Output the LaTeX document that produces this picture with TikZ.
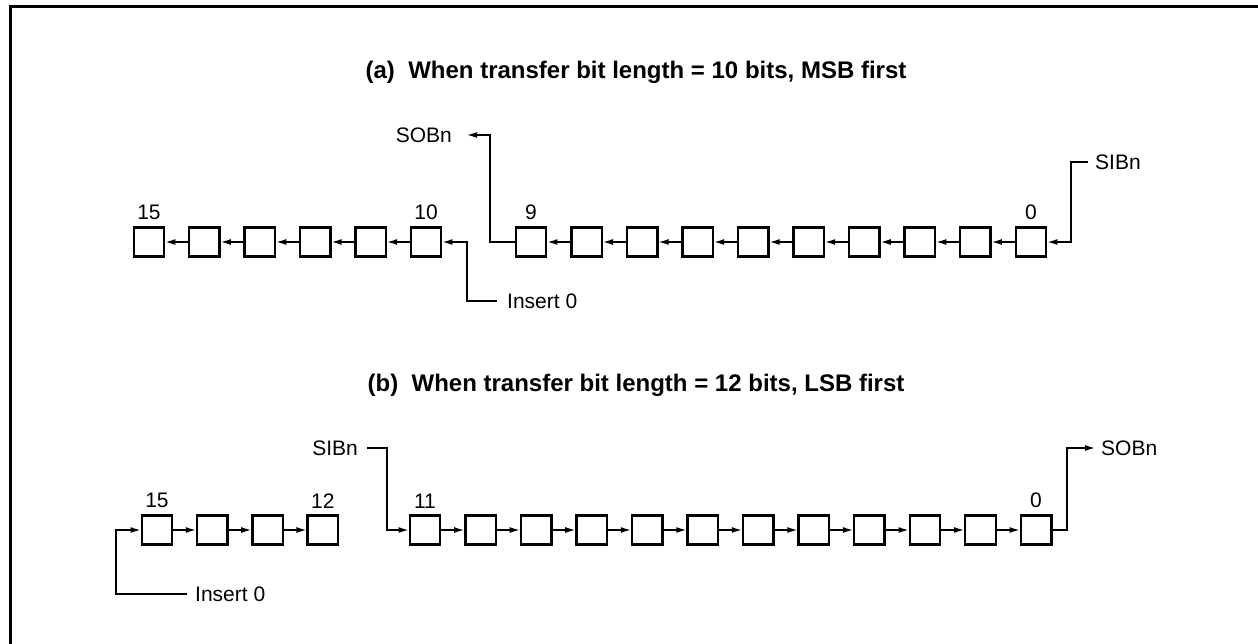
\documentclass[tikz,border=0pt]{standalone}
\usepackage{fontspec}
\setmainfont{Liberation Sans}
\usetikzlibrary{arrows.meta}
\begin{document}
\begin{tikzpicture}[x=1pt,y=-1pt,
  cell/.style={draw, line width=2.4pt, minimum width=30.5pt, minimum height=29pt, inner sep=0pt},
  conn/.style={line width=1.4pt},
  arr/.style={conn, -{Latex[length=10pt,width=6pt]}},
  lbl/.style={font=\fontsize{21}{24}\selectfont, inner sep=0pt},
  num/.style={lbl, anchor=south, yshift=6pt},
  ttl/.style={font=\bfseries\fontsize{24}{28}\selectfont, inner sep=0pt}]
\useasboundingbox (0,0) rectangle (1258,644);
\fill[white] (0,0) rectangle (1258,644);
\draw[line width=3pt, line join=miter] (10,660) -- (10,7) -- (1270,7);

% ---------- (a) ----------
\node[ttl] (ta) at (636,72) {(a)~~When transfer bit length = 10 bits, MSB first};
\foreach \k in {15,...,10} \node[cell] (a\k) at ({149+(15-\k)*55.4},242) {};
\foreach \k in {9,...,0} \node[cell] (a\k) at ({531+(9-\k)*55.55},242) {};
\node[num] (la15) at (a15.north) {15};
\node[num] (la10) at (a10.north) {10};
\node[num] (la9) at (a9.north) {9};
\node[num] (la0) at (a0.north) {0};
\foreach \k [count=\n from 1] in {0,...,8} \draw[arr] (a\k.west) -- (a\n.east);
\foreach \k [count=\n from 11] in {10,...,14} \draw[arr] (a\k.west) -- (a\n.east);

\coordinate (sa1) at (1071,162);
\coordinate (sa2) at (1088,162);
\draw[arr] (sa2) -- (sa1) |- (a0.east);
\node[lbl, anchor=west] (sibA) at (1095,162) {SIBn};

\coordinate (soa1) at (490,135);
\coordinate (soa2) at (467,135);
\draw[arr] (a9.west) -| (soa1) -- (soa2);
\node[lbl, anchor=east] (sobA) at (452,135) {SOBn};

\coordinate (ia1) at (467,301);
\coordinate (ia2) at (497,301);
\draw[arr] (ia2) -- (ia1) |- (a10.east);
\node[lbl, anchor=west] (insA) at (507,301) {Insert 0};

% ---------- (b) ----------
\node[ttl] (tb) at (636,385) {(b)~~When transfer bit length = 12 bits, LSB first};
\foreach \k in {15,...,12} \node[cell] (b\k) at ({157+(15-\k)*55.3},530) {};
\foreach \k in {11,...,0} \node[cell] (b\k) at ({425+(11-\k)*55.55},530) {};
\node[num] (lb15) at (b15.north) {15};
\node[num] (lb12) at (b12.north) {12};
\node[num] (lb11) at (b11.north) {11};
\node[num] (lb0) at (b0.north) {0};
\foreach \k [count=\n from 0] in {1,...,11} \draw[arr] (b\k.east) -- (b\n.west);
\foreach \k [count=\n from 12] in {13,...,15} \draw[arr] (b\k.east) -- (b\n.west);

\coordinate (sb1) at (367,448);
\coordinate (sb2) at (387,448);
\draw[arr] (sb1) -- (sb2) |- (b11.west);
\node[lbl, anchor=east] (sibB) at (358,448) {SIBn};

\coordinate (ib1) at (187,594);
\coordinate (ib2) at (116,594);
\draw[arr] (ib1) -- (ib2) |- (b15.west);
\node[lbl, anchor=west] (insB) at (195,594) {Insert 0};

\coordinate (sob1) at (1067,448);
\coordinate (sob2) at (1095,448);
\draw[arr] (b0.east) -| (sob1) -- (sob2);
\node[lbl, anchor=west] (sobB) at (1101,448) {SOBn};
\end{tikzpicture}
\end{document}
